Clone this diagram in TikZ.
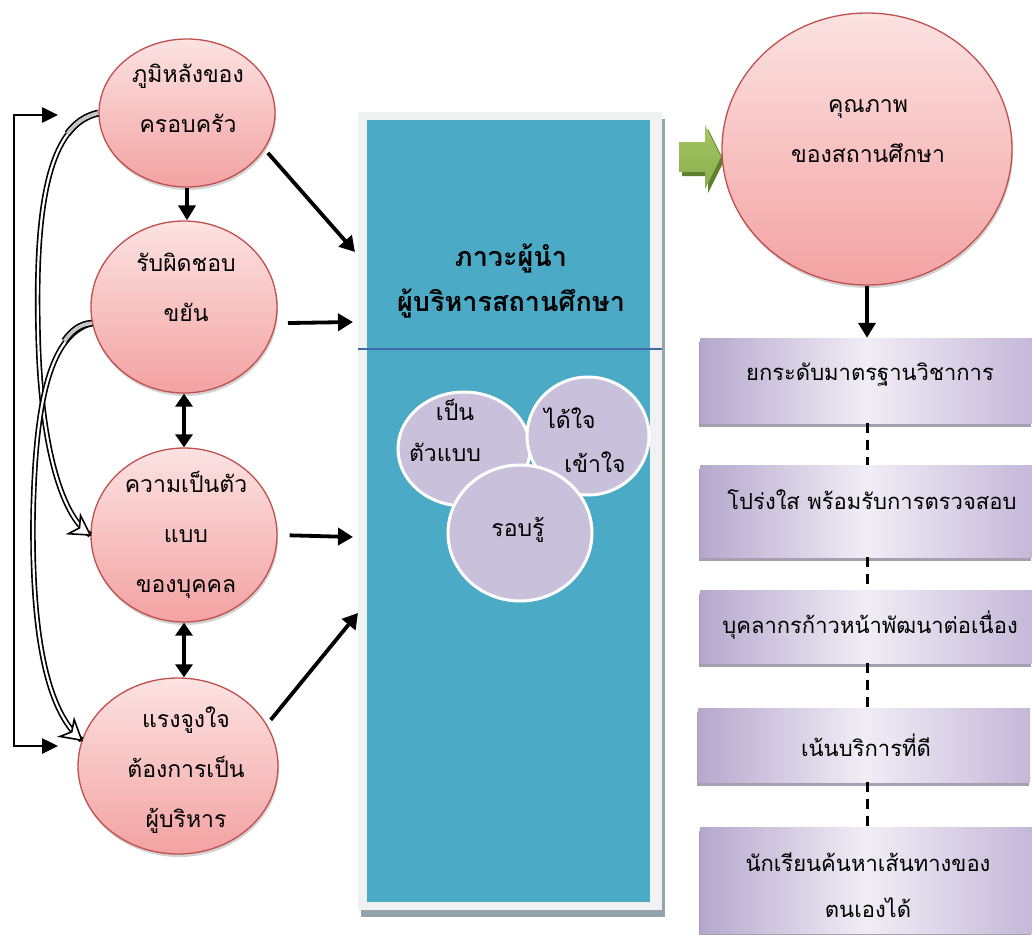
\documentclass[tikz,border=0pt]{standalone}
\usepackage{fontspec}
\newfontfamily\thai[Script=Thai]{Loma}
\usetikzlibrary{arrows.meta,shapes.geometric,shadows,decorations.markings}

\definecolor{balltop}{HTML}{FCE2E2}
\definecolor{ballbot}{HTML}{F3A2A2}
\definecolor{ballline}{HTML}{C0504D}
\definecolor{panelblue}{HTML}{4BAAC6}
\definecolor{panelframe}{HTML}{F0F2F2}
\definecolor{panelshadow}{HTML}{93A5AB}
\definecolor{panelline}{HTML}{3E6AA8}
\definecolor{bubblefill}{HTML}{C9C0DB}
\definecolor{greenlight}{HTML}{A4C663}
\definecolor{greendark}{HTML}{8AAE4E}
\definecolor{greenshade}{HTML}{5E7F2E}
\definecolor{boxedge}{HTML}{B5A8CD}
\definecolor{boxmid}{HTML}{F1EDF5}
\definecolor{boxright}{HTML}{C4B8D8}
\definecolor{boxshadow}{HTML}{8E879E}

\begin{document}
\begin{tikzpicture}[x=1pt,y=-1pt,
  ball/.style={ellipse, draw=ballline, line width=1.3pt, top color=balltop,
    bottom color=ballbot, inner sep=0pt,
    drop shadow={opacity=0.35, shadow xshift=1pt, shadow yshift=-3pt}},
  bubble/.style={ellipse, draw=white, line width=3pt, fill=bubblefill, inner sep=0pt},
  lbl/.style={font=\thai\fontsize{23}{50}\selectfont, align=center, inner sep=0pt},
  boxlbl/.style={font=\thai\fontsize{22}{46}\selectfont, align=center, inner sep=0pt},
  titlelbl/.style={font=\thai\bfseries\fontsize{27}{45}\selectfont, align=center, inner sep=0pt},
  arr/.style={line width=3.8pt, -{Triangle[length=15pt,width=17pt]}},
  darr/.style={line width=3.8pt, {Triangle[length=13pt,width=17pt]}-{Triangle[length=13pt,width=17pt]}},
  bracketarr/.style={line width=2.6pt, {Triangle[length=16pt,width=15pt]}-{Triangle[length=16pt,width=15pt]}},
  dashlink/.style={line width=3pt, dash pattern=on 10pt off 7pt},
  goal/.style={rectangle, inner sep=0pt, minimum width=332pt, left color=boxedge,
    right color=boxright, middle color=boxmid,
    drop shadow={opacity=0.8, shadow xshift=-1.5pt, shadow yshift=-3.5pt, fill=boxshadow}},
  blockcurve/.style={draw=black, line width=5.5pt,
    postaction={draw=white, line width=2.2pt},
    postaction={decorate},
    decoration={markings, mark=at position 1 with {
      \draw[fill=white, line width=1.6pt, draw=black]
        (-19pt,-11pt) -- (0pt,0pt) -- (-19pt,11pt) -- (-13pt,0pt) -- cycle;}}},
  blockstart/.style={draw=black, line width=7pt, postaction={draw=gray!45, line width=3.8pt}}
]
\useasboundingbox (0,0) rectangle (1032,934);

% ---------- central panel ----------
\node[rectangle, inner sep=0pt, minimum width=304pt, minimum height=798pt,
  fill=panelframe, drop shadow={opacity=1, shadow xshift=3pt, shadow yshift=-7pt, fill=panelshadow}]
  (frame) at (510,511) {};
\node[rectangle, inner sep=0pt, minimum width=283pt, minimum height=782pt, fill=panelblue]
  (panel) at (508.5,511) {};
\coordinate (hl) at (0,349);
\draw[panelline, line width=1.6pt] (frame.west |- hl) -- (frame.east |- hl);
\node[titlelbl] (title) at (511,281) {ภาวะผู้นำ\\ผู้บริหารสถานศึกษา};

\node[bubble, minimum width=132pt, minimum height=114pt] (bu1) at (464,449) {};
\node[bubble, minimum width=122pt, minimum height=118pt] (bu2) at (588,436) {};
\node[bubble, minimum width=144pt, minimum height=136pt] (bu3) at (520,533) {};
\node[lbl] (bu1a) at (455,410) {เป็น};
\node[lbl] (bu1b) at (445,452) {ตัวแบบ};
\node[lbl] (bu2a) at (570,418) {ได้ใจ};
\node[lbl] (bu2b) at (595,462) {เข้าใจ};
\node[lbl] (bu3a) at (518,530) {รอบรู้};

% ---------- factor circles ----------
\node[ball, minimum width=176pt, minimum height=148pt] (c1) at (187,113) {};
\node[ball, minimum width=186pt, minimum height=172pt] (c2) at (184,307) {};
\node[ball, minimum width=186pt, minimum height=174pt] (c3) at (184,535) {};
\node[ball, minimum width=200pt, minimum height=176pt] (c4) at (178,766) {};
\node[lbl] (c1t) at (188,98) {ภูมิหลังของ\\ครอบครัว};
\node[lbl] (c2t) at (186,287) {รับผิดชอบ\\ขยัน};
\node[lbl] (c3t) at (186,535) {ความเป็นตัว\\แบบ\\ของบุคคล};
\node[lbl] (c4t) at (186,770) {แรงจูงใจ\\ต้องการเป็น\\ผู้บริหาร};

\draw[arr] (c1.south) -- (c1.south |- c2.north);
\draw[darr] (c2.south) -- (c2.south |- c3.north);
\draw[darr] (c3.south) -- (c3.south |- c4.north);

\coordinate (p1) at (355,252);
\coordinate (p2) at (353,322);
\coordinate (p3) at (353,537);
\coordinate (p4) at (358,613);
\draw[arr, shorten <=5pt] (c1.-25) -- (p1);
\draw[arr, shorten <=12pt] (c2.-10) -- (p2);
\draw[arr, shorten <=12pt] (c3.east) -- (p3);
\draw[arr, shorten <=6pt] (c4.25) -- (p4);

% ---------- feedback loops on the left ----------
\coordinate (la) at (58,115);
\coordinate (lb) at (58,746);
\draw[bracketarr] (lb) -- (14,746) -- (14,115) -- (la);

\draw[blockcurve] (c1.west) .. controls (50,125) and (35,200) .. (38,330)
  .. controls (40,440) and (60,515) .. (c3.west);
\draw[blockstart] (c1.west) .. controls (85.25,116) and (75.5,122.9) .. (67.5,133.7);
\draw[blockcurve] (c2.190) .. controls (50,335) and (35,400) .. (33,520)
  .. controls (32,640) and (48,712) .. (c4.165);
\draw[blockstart] (c2.190) .. controls (80,324) and (71.56,331) .. (64.5,341);

% ---------- outcome ----------
\fill[greenshade] (682,146) -- (708,146) -- (708,129) -- (724,161) -- (708,193) -- (708,176) -- (682,176) -- cycle;
\shade[top color=greenlight, bottom color=greendark]
  (679,142) -- (705,142) -- (705,125) -- (721,157) -- (705,189) -- (705,172) -- (679,172) -- cycle;

\node[ball, minimum width=290pt, minimum height=272pt] (q) at (867,149) {};
\node[lbl] (qt) at (868,131) {คุณภาพ\\ของสถานศึกษา};

\node[goal, minimum height=85pt]  (g1) at (866,380.5) {};
\node[goal, minimum height=92pt]  (g2) at (866,511) {};
\node[goal, minimum height=73pt]  (g3) at (866,626.5) {};
\node[goal, minimum height=74pt]  (g4) at (864,745) {};
\node[goal, minimum height=106pt] (g5) at (866,880) {};
\node[boxlbl] (g1t) at (870,375) {ยกระดับมาตรฐานวิชาการ};
\node[boxlbl] (g2t) at (872,500) {โปร่งใส พร้อมรับการตรวจสอบ};
\node[boxlbl] (g3t) at (870,625) {บุคลากรก้าวหน้าพัฒนาต่อเนื่อง};
\node[boxlbl] (g4t) at (866,745) {เน้นบริการที่ดี};
\node[boxlbl] (g5t) at (868,885) {นักเรียนค้นหาเส้นทางของ\\ตนเองได้};

\draw[arr] (q.south) -- (q.south |- g1.north);
\draw[dashlink] (g1.south -| q.south) -- (g2.north -| q.south);
\draw[dashlink] (g2.south -| q.south) -- (g3.north -| q.south);
\draw[dashlink] (g3.south -| q.south) -- (g4.north -| q.south);
\draw[dashlink] (g4.south -| q.south) -- (g5.north -| q.south);
\end{tikzpicture}
\end{document}
